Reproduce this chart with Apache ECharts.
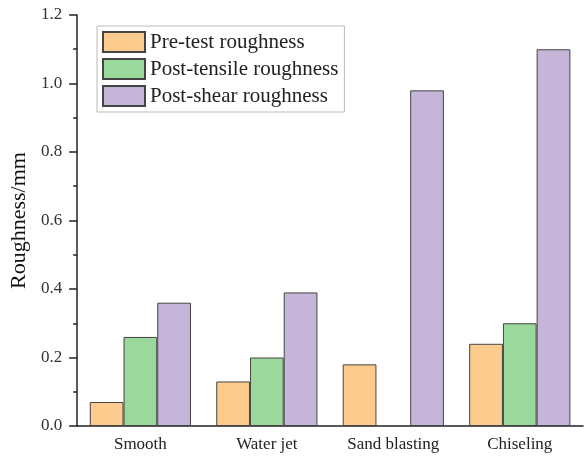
<!DOCTYPE html>
<html>
<head>
<meta charset="utf-8">
<script src="https://cdn.jsdelivr.net/npm/echarts@6/dist/echarts.min.js"></script>
<style>
  html, body { margin: 0; padding: 0; background: #fff; }
  #main { width: 586px; height: 459px; }
</style>
</head>
<body>
<div id="main"></div>
<script>
var categories = ['Smooth', 'Water jet', 'Sand blasting', 'Chiseling'];
var preTest = [0.07, 0.13, 0.18, 0.24];
var postTensile = [0.26, 0.20, null, 0.30];
var postShear = [0.36, 0.39, 0.98, 1.10];
var seriesNames = ['Pre-test roughness', 'Post-tensile roughness', 'Post-shear roughness'];
var colors = ['#FECB8F', '#9BD89B', '#C5B5D9'];

var font = 'Liberation Serif, Times New Roman, serif';
var myChart = echarts.init(document.getElementById('main'));

function bar(name, data, color) {
  return {
    name: name,
    type: 'bar',
    xAxisIndex: 0,
    data: data,
    barGap: '0%',
    barCategoryGap: '20%',
    itemStyle: { color: color, borderColor: '#444', borderWidth: 1 }
  };
}

var axisColor = '#222';

myChart.setOption({
  animation: false,
  textStyle: { fontFamily: font },
  grid: { left: 77, right: 3, top: 15, bottom: 33 },
  legend: {
    orient: 'vertical',
    left: 97,
    top: 26,
    padding: [5, 6, 5, 5],
    itemWidth: 42,
    itemHeight: 20,
    itemGap: 5,
    icon: 'rect',
    borderColor: '#bbb',
    borderWidth: 1,
    backgroundColor: '#fff',
    textStyle: { fontFamily: font, fontSize: 21, color: '#222' },
    data: seriesNames
  },
  xAxis: [{
    type: 'category',
    data: categories,
    axisLine: { lineStyle: { color: axisColor, width: 1.5 } },
    axisTick: { inside: false, alignWithLabel: true, length: 7, lineStyle: { color: axisColor, width: 1.5 } },
    axisLabel: { fontFamily: font, fontSize: 17, color: '#222', margin: 10 }
  }, {
    type: 'category',
    data: categories,
    position: 'bottom',
    axisLine: { show: false },
    axisTick: { inside: false, length: 4, lineStyle: { color: axisColor, width: 1.5 } },
    axisLabel: { show: false }
  }],
  yAxis: {
    type: 'value',
    min: 0,
    max: 1.2,
    interval: 0.2,
    name: 'Roughness/mm',
    nameLocation: 'middle',
    nameGap: 40,
    nameTextStyle: { fontFamily: font, fontSize: 22, color: '#111' },
    axisLine: { show: true, lineStyle: { color: axisColor, width: 1.5 } },
    axisTick: { show: true, inside: false, length: 8, lineStyle: { color: axisColor, width: 1.5 } },
    minorTick: { show: true, splitNumber: 2, length: 4, lineStyle: { color: axisColor, width: 1.5 } },
    splitLine: { show: false },
    axisLabel: {
      fontFamily: font, fontSize: 17, color: '#333', margin: 15,
      formatter: function (v) { return v.toFixed(1); }
    }
  },
  series: [
    bar(seriesNames[0], preTest, colors[0]),
    bar(seriesNames[1], postTensile, colors[1]),
    bar(seriesNames[2], postShear, colors[2])
  ]
});
</script>
</body>
</html>
